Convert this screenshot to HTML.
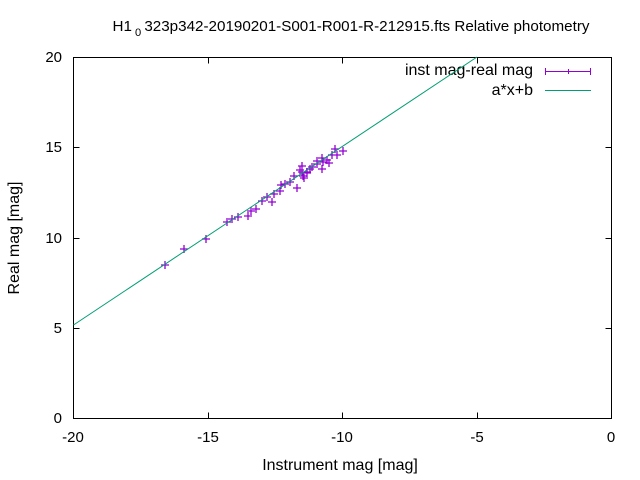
<!DOCTYPE html>
<html><head><meta charset="utf-8"><style>
body{margin:0;background:#fff}
svg{display:block;font-family:"Liberation Sans",sans-serif}
</style></head><body>
<svg width="640" height="480" viewBox="0 0 640 480" xmlns="http://www.w3.org/2000/svg">
<rect width="640" height="480" fill="#fff"/>
<text x="351" y="31" font-size="15" text-anchor="middle" textLength="477" lengthAdjust="spacingAndGlyphs">H1<tspan font-size="11" dy="5"> 0 </tspan><tspan dy="-5">323p342-20190201-S001-R001-R-212915.fts Relative photometry</tspan></text>
<g stroke="#000" stroke-width="1" fill="none">
<rect x="73.5" y="57.5" width="538" height="361"/>
<path d="M73.5 418.5h6M73.5 328.5h6M73.5 238.5h6M73.5 147.5h6M73.5 57.5h6M611.5 418.5h-6M611.5 328.5h-6M611.5 238.5h-6M611.5 147.5h-6M611.5 57.5h-6"/>
<path d="M208.5 418.5v-6M342.5 418.5v-6M477.5 418.5v-6M208.5 57.5v6M342.5 57.5v6M477.5 57.5v6"/>
</g>
<g font-size="15" text-anchor="end">
<text x="62" y="423">0</text><text x="62" y="333">5</text><text x="62" y="243">10</text><text x="62" y="152">15</text><text x="62" y="62">20</text>
</g>
<g font-size="15" text-anchor="middle">
<text x="73" y="442">-20</text><text x="208" y="442">-15</text><text x="342" y="442">-10</text><text x="477" y="442">-5</text><text x="611" y="442">0</text>
<text x="340" y="470" font-size="16">Instrument mag [mag]</text>
</g>
<text transform="translate(19,238) rotate(-90)" font-size="16" text-anchor="middle">Real mag [mag]</text>
<text x="533" y="75" font-size="16" text-anchor="end">inst mag-real mag</text>
<text x="533" y="95" font-size="16" text-anchor="end">a*x+b</text>
<g stroke="#9400d3" stroke-width="1" fill="none">
<path d="M545 71.5h46M545.5 68v7M590.5 68v7M568.5 69v5"/>
</g>
<path d="M545 90.5h46" stroke="#009e73" stroke-width="1" fill="none"/>
<g stroke="#9400d3" stroke-width="1.3">
<path d="
M161 265h8M165 261v8
M180 249h8M184 245v8
M202 239h8M206 235v8
M223 222h8M227 218v8
M228 219h8M232 215v8
M234 217h8M238 213v8
M244 216h8M248 212v8
M247 211h8M251 207v8
M252 209h8M256 205v8
M258 201h8M262 197v8
M263 197h8M267 193v8
M268 202h8M272 198v8
M270 194h8M274 190v8
M276 191h8M280 187v8
M277 185h8M281 181v8
M281 184h8M285 180v8
M286 182h8M290 178v8
M293 188h8M297 184v8
M290 176h8M294 172v8
M298 166h8M302 162v8
M298 172h8M302 168v8
M299 176h8M303 172v8
M303 172h8M307 168v8
M303 173h8M307 169v8
M306 169h8M310 165v8
M308 167h8M312 163v8
M313 161h8M317 157v8
M318 158h8M322 154v8
M319 162h8M323 158v8
M318 169h8M322 165v8
M323 160h8M327 156v8
M328 155h8M332 151v8
M331 149h8M335 145v8
M333 155h8M337 151v8
M300 178h8M304 174v8
M313 164h8M317 160v8
M296 170h8M300 166v8
M325 163h8M329 159v8
M339 151h8M343 147v8
"/>
</g>
<path d="M73.5 325 L477 57" stroke="#009e73" stroke-width="1" fill="none"/>
</svg>
</body></html>
